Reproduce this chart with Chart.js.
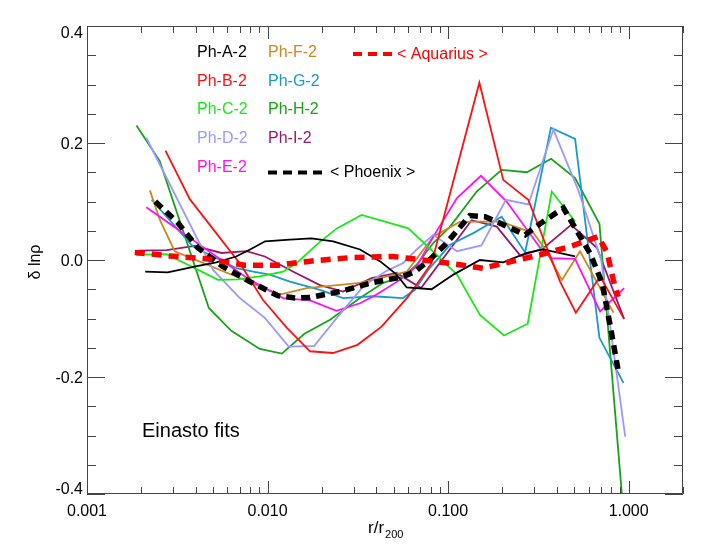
<!DOCTYPE html>
<html><head><meta charset="utf-8">
<script src="https://cdn.jsdelivr.net/npm/chart.js@4"></script>
<style>html,body{margin:0;padding:0;background:#fff;}</style>
</head><body>
<canvas id="c" width="709" height="550"></canvas>
<script>
// ---- data ----
const seriesNames  = ['Ph-A-2','Ph-B-2','Ph-C-2','Ph-D-2','Ph-E-2','Ph-F-2','Ph-G-2','Ph-H-2','Ph-I-2'];
const seriesColors = ['#000000','#ff1010','#18ea18','#9a9aff','#ff10f0','#c98a1e','#1a9ac8','#1aa21a','#98186e'];

const phA_r = [0.0021,0.0028,0.0040,0.0052,0.0067,0.0080,0.0097,0.0133,0.0175,0.0231,0.0325,0.0419,0.0519,0.059,0.081,0.107,0.150,0.202,0.273,0.337,0.505];
const phA_d = [-0.020,-0.021,-0.011,-0.004,0.006,0.018,0.032,0.035,0.037,0.032,0.018,-0.002,-0.025,-0.047,-0.050,-0.025,0.000,-0.004,0.012,0.018,0.006];

const phB_r = [0.00272,0.00371,0.00711,0.00942,0.0128,0.0172,0.0230,0.0315,0.0428,0.0596,0.0811,0.149,0.202,0.278,0.417,0.510,0.695,0.936];
const phB_d = [0.187,0.104,-0.008,-0.068,-0.116,-0.156,-0.159,-0.145,-0.114,-0.064,-0.005,0.303,0.137,0.103,-0.037,-0.090,-0.028,-0.099];

const phC_r = [0.00188,0.00276,0.00532,0.00687,0.00906,0.0122,0.0145,0.0195,0.0242,0.0332,0.0602,0.0804,0.112,0.150,0.204,0.276,0.375,0.505];
const phC_d = [0.009,0.010,-0.034,-0.033,-0.028,-0.020,-0.005,0.031,0.054,0.077,0.054,0.018,-0.025,-0.094,-0.129,-0.109,0.117,0.066];

const phD_r = [0.00213,0.00499,0.00702,0.00966,0.0131,0.0181,0.0242,0.0339,0.0447,0.0565,0.0670,0.0828,0.112,0.153,0.209,0.278,0.383,0.525,0.704,0.957];
const phD_d = [0.209,-0.017,-0.065,-0.099,-0.148,-0.147,-0.099,-0.045,-0.020,-0.005,0.018,0.043,0.015,0.025,0.103,0.095,0.223,0.120,0.001,-0.302];

const phE_r = [0.00213,0.00798,0.00966,0.0122,0.0172,0.0241,0.0325,0.0402,0.0541,0.0670,0.0828,0.112,0.152,0.211,0.323,0.375,0.505,0.695,0.944];
const phE_d = [0.090,-0.034,-0.048,-0.065,-0.069,-0.087,-0.074,-0.059,-0.034,-0.011,0.040,0.106,0.144,0.100,0.021,0.003,0.002,-0.088,-0.048];

const phF_r = [0.00223,0.00253,0.00306,0.0117,0.0165,0.0325,0.059,0.0828,0.116,0.194,0.297,0.337,0.427,0.538,0.824];
const phF_d = [0.119,0.069,0.015,-0.059,-0.048,-0.039,-0.020,0.040,0.065,0.066,0.046,0.023,-0.034,0.015,-0.090];

const phG_r = [0.00228,0.00319,0.00387,0.00522,0.00673,0.00832,0.0103,0.0133,0.0195,0.0262,0.0385,0.0562,0.0656,0.0775,0.1026,0.138,0.198,0.267,0.371,0.505,0.689,0.936];
const phG_d = [0.103,0.052,0.023,0.003,-0.014,-0.020,-0.025,-0.037,-0.051,-0.065,-0.062,-0.065,-0.051,-0.017,0.026,0.046,0.074,0.013,0.226,0.207,-0.133,-0.210];

const phH_r = [0.00188,0.00253,0.00473,0.0063,0.00906,0.0120,0.0160,0.0222,0.0325,0.0437,0.0565,0.0670,0.0828,0.1026,0.144,0.198,0.273,0.372,0.505,0.689,0.936];
const phH_d = [0.230,0.169,-0.082,-0.121,-0.152,-0.160,-0.126,-0.102,-0.065,-0.039,-0.028,-0.008,0.029,0.057,0.117,0.154,0.150,0.173,0.140,0.062,-0.433];

const phI_r = [0.00192,0.00276,0.00395,0.00556,0.00765,0.00966,0.0139,0.0195,0.0262,0.0377,0.0519,0.0708,0.135,0.186,0.252,0.337,0.480,0.667,0.944];
const phI_d = [0.016,0.017,0.024,0.012,0.015,0.006,-0.020,-0.043,-0.054,-0.031,-0.022,-0.048,0.068,0.057,0.007,0.020,0.060,0.021,-0.101];

const phoenix_r = [0.00239,0.00318,0.00411,0.00565,0.00798,0.0114,0.0142,0.0172,0.0252,0.0377,0.0553,0.0656,0.0794,0.0962,0.132,0.160,0.194,0.267,0.323,0.435,0.505,0.612,0.713,0.789,0.875];
const phoenix_d = [0.100,0.064,0.021,-0.011,-0.037,-0.061,-0.065,-0.064,-0.054,-0.039,-0.029,-0.020,0.001,0.026,0.076,0.074,0.063,0.043,0.062,0.089,0.055,0.011,-0.039,-0.111,-0.189];

const aquarius_r = [0.00184,0.00287,0.00461,0.00748,0.0113,0.0172,0.0286,0.0495,0.0826,0.116,0.156,0.229,0.323,0.474,0.678,0.760,0.822,0.875];
const aquarius_d = [0.013,0.007,0.002,-0.009,-0.009,-0.002,0.004,0.006,-0.002,-0.008,-0.014,-0.002,0.009,0.023,0.040,0.013,-0.034,-0.063];

const xTickValues = [0.001,0.01,0.1,1];
const xTickLabels = ['0.001','0.010','0.100','1.000'];
const yTickValues = [-0.4,-0.2,0.0,0.2,0.4];
const yTickLabels = ['-0.4','-0.2','0.0','0.2','0.4'];
const xMin = 0.001, xMax = 2, yMin = -0.4, yMax = 0.4;

const phoenixLabel = '< Phoenix >';
const aquariusLabel = '< Aquarius >';
const fitLabel = 'Einasto fits';
const yTitle = 'δ lnρ';
const xTitleMain = 'r/r', xTitleSub = '200';

// ---- build chart ----
const FONT = '"Liberation Sans", Arial, Helvetica, sans-serif';
function pts(rs, ds){ return rs.map((r,i)=>({x:r,y:ds[i]})); }
function line(label, rs, ds, color, w, dash){
  return {label, data: pts(rs,ds), borderColor: color, backgroundColor: color,
          borderWidth: w, borderDash: dash || [], pointRadius: 0, fill: false,
          tension: 0, clip: 0, borderCapStyle: 'butt', borderJoinStyle: 'miter'};
}
const seriesR = [phA_r,phB_r,phC_r,phD_r,phE_r,phF_r,phG_r,phH_r,phI_r];
const seriesD = [phA_d,phB_d,phC_d,phD_d,phE_d,phF_d,phG_d,phH_d,phI_d];

const datasets = [
  line('Aquarius', aquarius_r, aquarius_d, '#ff0000', 5.5, [10,7]),
  line('Phoenix', phoenix_r, phoenix_d, '#000000', 5.5, [9,6])
];
for (let i=0;i<seriesNames.length;i++) datasets.push(line(seriesNames[i], seriesR[i], seriesD[i], seriesColors[i], 1.8));

const decor = {
  id: 'decor',
  afterDatasetsDraw(chart){
    const c = chart.ctx, a = chart.chartArea, xs = chart.scales.x, ys = chart.scales.y;
    c.save();
    c.strokeStyle = '#444'; c.lineWidth = 1;
    // frame
    c.beginPath();
    c.rect(Math.round(a.left)+0.5, Math.round(a.top)+0.5, Math.round(a.right-a.left)-1, Math.round(a.bottom-a.top)-1);
    c.stroke();
    // x ticks (major decades + minor 2..9)
    c.beginPath();
    for (let dec=0.001; dec<=1.0001; dec*=10){
      for (let m=1;m<=9;m++){
        const v = m*dec;
        if (v < xMin*0.999 || v > xMax*1.001) continue;
        const px = Math.round(xs.getPixelForValue(v))+0.5;
        const L = (m===1)?13:7;
        c.moveTo(px, a.bottom); c.lineTo(px, a.bottom-L);
        c.moveTo(px, a.top); c.lineTo(px, a.top+L);
      }
    }
    // y ticks every 0.05, major every 0.2
    for (let k=-8;k<=8;k++){
      const v = k*0.05;
      const py = Math.round(ys.getPixelForValue(v))+0.5;
      const L = (k%4===0)?18:9;
      c.moveTo(a.left, py); c.lineTo(a.left+L, py);
      c.moveTo(a.right, py); c.lineTo(a.right-L, py);
    }
    c.stroke();
    c.restore();
  },
  afterDraw(chart){
    const c = chart.ctx, a = chart.chartArea, xs = chart.scales.x, ys = chart.scales.y;
    c.save();
    c.fillStyle = '#000';
    c.font = '16px ' + FONT;
    // x tick labels
    c.textAlign = 'center'; c.textBaseline = 'alphabetic';
    xTickValues.forEach((v,i)=>{ c.fillText(xTickLabels[i], xs.getPixelForValue(v), a.bottom+22); });
    // y tick labels (kept inside the axis range like the reference)
    c.textAlign = 'right';
    yTickValues.forEach((v,i)=>{
      const py = ys.getPixelForValue(v);
      const base = Math.min(Math.max(py+6, a.top+11.5), a.bottom);
      c.fillText(yTickLabels[i], a.left-4, base);
    });
    // y title
    c.save();
    c.translate(36, 262); c.rotate(-Math.PI/2);
    c.textAlign = 'center'; c.textBaseline = 'middle';
    c.font = '16px ' + FONT;
    c.fillText(yTitle, 0, 0);
    c.restore();
    // x title with subscript
    c.textAlign = 'left';
    c.font = '17px ' + FONT;
    c.fillText(xTitleMain, 368, 533);
    const w = c.measureText(xTitleMain).width;
    c.font = '11px ' + FONT;
    c.fillText(xTitleSub, 368+w+1, 538);
    // Einasto fits
    c.font = '20px ' + FONT;
    c.fillText(fitLabel, 142, 437);
    // legend
    c.font = '16px ' + FONT;
    const rows = [57, 85.7, 114.4, 143.1, 171.8];
    for (let i=0;i<seriesNames.length;i++){
      const col = i<5 ? 0 : 1, row = i<5 ? i : i-5;
      c.fillStyle = seriesColors[i];
      c.fillText(seriesNames[i], col===0?197:268, rows[row]);
    }
    // Phoenix legend sample
    c.strokeStyle = '#000'; c.lineWidth = 4; c.setLineDash([9,6]);
    c.beginPath(); c.moveTo(268, 172.5); c.lineTo(323, 172.5); c.stroke();
    c.fillStyle = '#000';
    c.fillText(phoenixLabel, 330, 177);
    // Aquarius legend sample
    c.strokeStyle = '#ff0000'; c.setLineDash([9,6]);
    c.beginPath(); c.moveTo(353, 54); c.lineTo(393, 54); c.stroke();
    c.setLineDash([]);
    c.fillStyle = '#ff0000';
    c.fillText(aquariusLabel, 397, 59);
    c.restore();
  }
};

new Chart(document.getElementById('c').getContext('2d'), {
  type: 'line',
  data: { datasets },
  options: {
    responsive: false, animation: false, devicePixelRatio: 1,
    layout: { padding: { left: 87, right: 26, top: 26, bottom: 56 } },
    plugins: { legend: { display: false }, tooltip: { enabled: false } },
    scales: {
      x: { type: 'logarithmic', min: xMin, max: xMax, display: false },
      y: { type: 'linear', min: yMin, max: yMax, display: false }
    }
  },
  plugins: [decor]
});
</script>
</body></html>
